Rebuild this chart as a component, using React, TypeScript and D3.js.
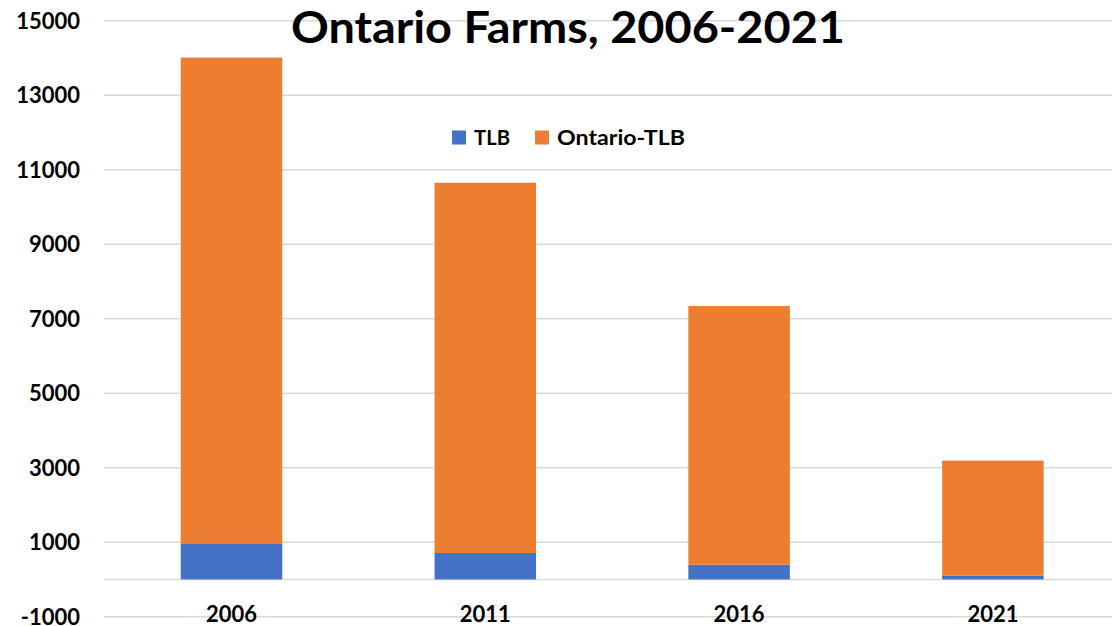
import React from "react";
import * as d3 from "d3";

const years = ["2006", "2011", "2016", "2021"];
const tlb = [970, 710, 395, 105];
const ontarioMinusTlb = [13040, 9940, 6945, 3085];
const seriesNames = ["TLB", "Ontario-TLB"];
const seriesColors = ["#4472C4", "#ED7D31"];
const yTicks = [-1000, 1000, 3000, 5000, 7000, 9000, 11000, 13000, 15000];
const title = "Ontario Farms, 2006-2021";

const W = 1112;
const H = 626;
const FONT = "Lato, 'Liberation Sans', Arial, sans-serif";

export default function App() {
  const rows = years.map((y, i) => ({ year: y, TLB: tlb[i], "Ontario-TLB": ontarioMinusTlb[i] }));
  const stack = d3.stack<any>().keys(seriesNames);
  const layers = stack(rows);

  const x = d3.scaleBand<string>().domain(years).range([104.6, 1119.8]).paddingInner(0.6).paddingOuter(0.3);
  const y = d3.scaleLinear().domain([-1000, 15000]).range([616.7, 20.7]);

  const gridVals = [...yTicks, 0];

  return (
    <svg width={W} height={H} style={{ position: "absolute", left: 0, top: 0, background: "#fff" }}>
      <rect x={0} y={0} width={W} height={H} fill="#fff" />
      {gridVals.map((v) => (
        <line key={v} x1={104} x2={W} y1={y(v)} y2={y(v)} stroke="#d9d9d9" strokeWidth={1.5} />
      ))}
      {yTicks.map((v) => (
        <text key={v} x={80} y={y(v)} dy="0.36em" textAnchor="end" fontFamily={FONT} fontWeight="bold" fontSize={22} fill="#000">
          {v}
        </text>
      ))}
      {layers.map((layer, li) => (
        <g key={layer.key} fill={seriesColors[li]}>
          {layer.map((d, i) => (
            <rect key={i} x={x(years[i])} width={x.bandwidth()} y={y(d[1])} height={y(d[0]) - y(d[1])} />
          ))}
        </g>
      ))}
      {years.map((yr) => (
        <text key={yr} x={(x(yr) as number) + x.bandwidth() / 2} y={622} textAnchor="middle" fontFamily={FONT} fontWeight="bold" fontSize={22} fill="#000">
          {yr}
        </text>
      ))}
      <text x={291} y={42.5} textAnchor="start" fontFamily={FONT} fontWeight="bold" fontSize={43} fill="#000" textLength={554} lengthAdjust="spacingAndGlyphs">
        {title}
      </text>
      <g>
        <rect x={452} y={130.5} width={14} height={14} fill={seriesColors[0]} />
        <text x={474} y={145} fontFamily={FONT} fontWeight="bold" fontSize={21} fill="#000" textLength={36} lengthAdjust="spacingAndGlyphs">
          {seriesNames[0]}
        </text>
        <rect x={535} y={130.5} width={14} height={14} fill={seriesColors[1]} />
        <text x={557} y={145} fontFamily={FONT} fontWeight="bold" fontSize={21} fill="#000" textLength={128} lengthAdjust="spacingAndGlyphs">
          {seriesNames[1]}
        </text>
      </g>
    </svg>
  );
}
